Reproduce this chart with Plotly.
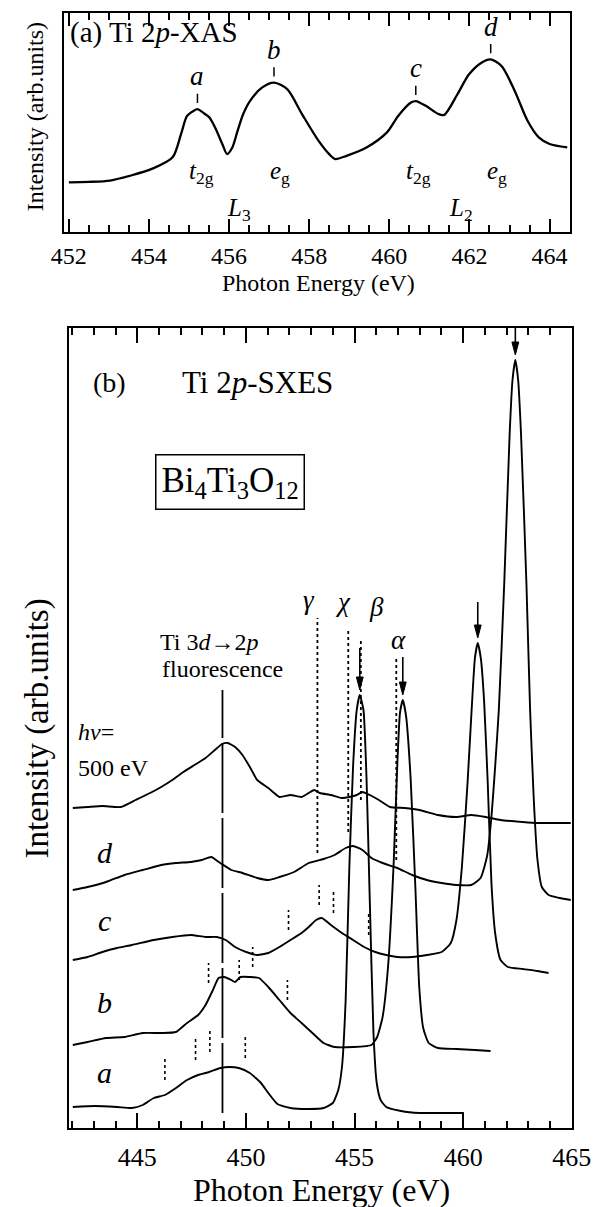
import plotly.graph_objects as go

FONT = "Liberation Serif, Times New Roman, Times, DejaVu Serif, serif"
W, H = 610, 1207
OFF = 8  # page body margin offset of the rendered figure

# ---------------- (a) Ti 2p-XAS ----------------
xas_energy = [452.0, 452.5, 453.03, 453.55, 454.07, 454.59, 454.8, 454.95, 455.11, 455.21,
              455.35, 455.51, 455.65, 455.83, 455.95, 456.08, 456.2, 456.35, 456.52, 456.82,
              457.12, 457.45, 457.82, 458.23, 458.51, 458.65, 458.93, 459.43, 459.94, 460.22,
              460.54, 460.66, 460.91, 461.23, 461.37, 461.7, 461.99, 462.3, 462.53, 462.8,
              463.13, 463.45, 463.73, 464.0, 464.44]
xas_intensity = [22.7, 22.9, 23.5, 25.8, 28.8, 34.1, 44.7, 53, 55.3, 56.1,
                 54.5, 52.3, 47.7, 40.2, 35.6, 38.6, 45.5, 53.8, 59.8, 65.9,
                 68.2, 65.2, 53.8, 41.7, 35.3, 33.3, 34.8, 38.6, 45.5, 53,
                 59.1, 59.8, 57.6, 53.8, 53.5, 62.9, 72, 77.3, 78.8, 75.8,
                 64.4, 50.8, 43.2, 40.2, 38.6]
xas_peak_labels = ["a", "b", "c", "d"]
xas_peak_energy = [455.21, 457.12, 460.66, 462.53]
xas_peak_height = [56.1, 68.2, 59.8, 78.8]
xas_sym_labels = ["<i>t</i><sub>2g</sub>", "<i>e</i><sub>g</sub>", "<i>t</i><sub>2g</sub>", "<i>e</i><sub>g</sub>"]
xas_sym_energy = [455.32, 457.26, 460.74, 462.68]
edge_labels = ["<i>L</i><sub>3</sub>", "<i>L</i><sub>2</sub>"]
edge_energy = [456.25, 461.8]

# ---------------- (b) Ti 2p-SXES ----------------
e_500 = [442.03, 442.71, 443.39, 444.24, 444.92, 445.59, 446.10, 446.61, 447.12, 447.63,
         448.14, 448.57, 448.90, 449.16, 449.50, 449.84, 450.18, 450.52, 451.03, 451.54,
         452.05, 452.56, 452.89, 453.15, 453.40, 453.91, 454.42, 454.76, 455.10, 455.36,
         455.70, 456.12, 456.63, 457.31, 457.99, 458.84, 459.69, 460.37, 461.04, 461.72,
         462.74, 463.42, 464.10, 464.95]
i_500 = [320, 321, 322, 321, 328, 335, 341, 348, 356, 363,
         370, 378, 384, 385, 381, 373, 361, 348, 340, 331,
         333, 331, 335, 338, 335, 333, 330, 331, 333, 336,
         333, 328, 321, 320, 318, 313, 311, 313, 311, 308,
         306, 305, 305, 305]

e_d = [442.03, 442.71, 443.56, 444.41, 445.25, 446.10, 446.78, 447.46, 447.97, 448.40,
       448.82, 449.33, 449.84, 450.52, 451.03, 451.54, 452.22, 452.89, 453.57, 454.08,
       454.59, 454.93, 455.36, 455.78, 456.29, 456.97, 457.65, 458.33, 459.01, 459.69,
       460.37, 460.80, 461.10, 461.30, 461.47, 461.64, 461.89, 462.14, 462.27, 462.40,
       462.53, 462.66, 462.91, 463.08, 463.25, 463.42, 463.62, 463.93, 464.44, 464.95]
i_d = [238, 241, 246, 253, 258, 263, 265, 266, 268, 271,
       265, 258, 255, 250, 248, 251, 256, 265, 269, 273,
       280, 282, 278, 270, 265, 260, 253, 248, 245, 243,
       243, 250, 272, 311, 361, 418, 545, 695, 748, 768,
       748, 695, 545, 418, 328, 268, 241, 233, 230, 228]

e_c = [442.03, 442.71, 443.39, 444.07, 444.75, 445.76, 446.61, 447.46, 448.14, 448.65,
       449.07, 449.50, 450.01, 450.52, 451.03, 451.54, 452.05, 452.56, 452.89, 453.23,
       453.49, 453.91, 454.42, 454.93, 455.44, 455.95, 456.46, 456.97, 457.65, 458.33,
       459.01, 459.43, 459.69, 459.94, 460.20, 460.37, 460.54, 460.67, 460.81, 460.96,
       461.13, 461.30, 461.47, 461.72, 462.06, 462.74, 463.42, 463.93]
i_c = [168, 171, 176, 180, 183, 188, 191, 193, 191, 191,
       188, 181, 176, 173, 175, 181, 188, 195, 201, 208,
       210, 203, 195, 188, 181, 176, 173, 171, 171, 173,
       176, 185, 208, 261, 345, 411, 470, 485, 470, 428,
       345, 245, 195, 168, 161, 159, 157, 155]

e_b = [442.03, 442.71, 443.56, 444.41, 445.25, 446.10, 446.78, 447.29, 447.80, 448.14,
       448.48, 448.74, 448.99, 449.33, 449.50, 449.75, 450.18, 450.60, 451.03, 451.54,
       452.05, 452.56, 453.06, 453.57, 454.08, 454.93, 455.78, 456.04, 456.29, 456.54,
       456.80, 456.97, 457.09, 457.22, 457.37, 457.58, 457.80, 457.98, 458.16, 458.41,
       458.84, 459.69, 460.53, 461.26]
i_b = [83, 86, 90, 91, 95, 95, 96, 105, 113, 123,
       138, 150, 151, 148, 146, 151, 151, 150, 141, 128,
       115, 105, 95, 85, 81, 81, 83, 91, 111, 161,
       265, 365, 415, 428, 412, 350, 240, 140, 100, 85,
       80, 79, 78, 77]

e_a = [442.03, 443.05, 444.07, 444.75, 445.25, 445.76, 446.27, 446.78, 447.29, 447.80,
       448.31, 448.82, 449.24, 449.67, 450.18, 450.69, 451.03, 451.45, 452.05, 452.89,
       453.57, 454.0, 454.25, 454.42, 454.59, 454.76, 454.93, 455.10, 455.24, 455.41,
       455.55, 455.70, 455.87, 456.02, 456.2, 456.46, 457.14, 457.99, 458.84, 460.03]
i_a = [21, 22, 21, 20, 23, 30, 33, 40, 48, 53,
       56, 60, 61, 60, 55, 45, 35, 24, 20, 19,
       20, 25, 38, 61, 128, 261, 361, 418, 433, 418,
       350, 228, 95, 45, 28, 21, 17, 15, 15, 15]

spectra = [(e_500, i_500), (e_d, i_d), (e_c, i_c), (e_b, i_b), (e_a, i_a)]
spectrum_labels = ["d", "c", "b", "a"]
spectrum_label_y = [276, 208, 126, 56]

arrow_spectra = [1, 2, 3, 4]
arrow_length = [58, 36, 38, 42]

loss_names = ["γ", "χ", "β", "α"]
loss_energy = [453.29, 454.71, 455.29, 456.92]
loss_bottom = [275, 296, 328, 268]
loss_top = [510, 498, 488, 470]
loss_label_x = [452.89, 454.49, 456.02, 457.04]
loss_label_y = [528, 526, 521, 488]

marks = [(446.27, 48, 70), (447.68, 68, 90), (448.34, 76, 98), (449.97, 70, 91),
         (448.28, 145, 165), (449.69, 148, 168), (450.31, 161, 181), (451.91, 128, 148),
         (451.96, 198, 218), (453.37, 223, 243), (454.03, 215, 236), (455.65, 193, 215)]

fluor_energy = 448.92
fluor_range = (15, 438)

X2_RANGE = [441.84, 465.03]
X2_PIX = (58.3, 590)


def px(x):
    return (x - OFF) / W


def py(y):
    return 1 - (y - OFF) / H


fig = go.Figure()
fig.add_trace(go.Scatter(x=xas_energy, y=xas_intensity, mode="lines",
                         line=dict(color="black", width=2.3, shape="spline", smoothing=0.8),
                         xaxis="x", yaxis="y", showlegend=False, hoverinfo="skip"))
for e, i in spectra:
    fig.add_trace(go.Scatter(x=e, y=i, mode="lines",
                             line=dict(color="black", width=1.9, shape="spline", smoothing=0.5),
                             xaxis="x2", yaxis="y2", showlegend=False, hoverinfo="skip"))

shapes = []
annotations = []


def txt(x, y, text, size, xref="x2", yref="y2", xanchor="center", yanchor="middle", angle=0):
    annotations.append(dict(x=x, y=y, xref=xref, yref=yref, text=text, showarrow=False,
                            xanchor=xanchor, yanchor=yanchor, textangle=angle,
                            font=dict(family=FONT, size=size, color="black")))


# panel (a) labels
txt(451.98, 91, "(a) Ti 2<i>p</i>-XAS", 29, "x", "y", xanchor="left")
for lab, pe, ph in zip(xas_peak_labels, xas_peak_energy, xas_peak_height):
    shapes.append(dict(type="line", xref="x", yref="y", x0=pe, x1=pe, y0=ph + 2.8, y1=ph + 7.0,
                       line=dict(color="black", width=1.5)))
    txt(pe, ph + 15, "<i>%s</i>" % lab, 27, "x", "y")
for lab, se in zip(xas_sym_labels, xas_sym_energy):
    txt(se, 27, lab, 25, "x", "y")
for lab, le in zip(edge_labels, edge_energy):
    txt(le, 10.5, lab, 25, "x", "y")

# panel (b) labels
txt(443.73, 746, "(b)", 28)
txt(446.97, 746, "Ti 2<i>p</i>-SXES", 31, xanchor="left")
annotations.append(dict(x=px(229), y=py(481.5), xref="paper", yref="paper",
                        text="Bi<sub>4</sub>Ti<sub>3</sub>O<sub>12</sub>", showarrow=False,
                        font=dict(family=FONT, size=35, color="black"),
                        bordercolor="black", borderwidth=1.5, borderpad=5))
txt(445.95, 486, "Ti 3<i>d</i>→2<i>p</i>", 24, xanchor="left")
txt(446.05, 459, "fluorescence", 24, xanchor="left")
txt(442.17, 396, "<i>hv</i>=", 24, xanchor="left")
txt(442.17, 360, "500 eV", 24, xanchor="left")
for lab, ly in zip(spectrum_labels, spectrum_label_y):
    txt(443.5, ly, "<i>%s</i>" % lab, 30)
for name, le, lb, lt, lx, ly in zip(loss_names, loss_energy, loss_bottom, loss_top, loss_label_x, loss_label_y):
    shapes.append(dict(type="line", xref="x2", yref="y2", x0=le, x1=le, y0=lb, y1=lt,
                       line=dict(color="black", width=1.8, dash="dot")))
    txt(lx, ly, "<i>%s</i>" % name, 27)
for me, ml, mh in marks:
    shapes.append(dict(type="line", xref="x2", yref="y2", x0=me, x1=me, y0=ml, y1=mh,
                       line=dict(color="black", width=1.6, dash="dot")))
shapes.append(dict(type="line", xref="x2", yref="y2", x0=fluor_energy, x1=fluor_energy,
                   y0=fluor_range[0], y1=fluor_range[1],
                   line=dict(color="black", width=1.8, dash="70px,5px")))

# arrows pointing at the elastic peaks (line + filled head), head size in pixels
ev_per_px = (X2_RANGE[1] - X2_RANGE[0]) / (X2_PIX[1] - X2_PIX[0])
head_len, head_half = 13, 3.6
for idx, L in zip(arrow_spectra, arrow_length):
    e, i = spectra[idx]
    k = i.index(max(i))
    xe, tip = e[k], i[k] + 5
    shapes.append(dict(type="line", xref="x2", yref="y2", x0=xe, x1=xe, y0=tip + head_len - 1,
                       y1=tip + L, line=dict(color="black", width=1.6)))
    hw = head_half * ev_per_px
    shapes.append(dict(type="path", xref="x2", yref="y2",
                       path="M %f,%f L %f,%f L %f,%f Z" % (xe, tip, xe - hw, tip + head_len, xe + hw, tip + head_len),
                       fillcolor="black", line=dict(color="black", width=1)))

# axis titles
txt(px(23), py(117), "Intensity (arb.units)", 24, "paper", "paper", angle=-90)
txt(px(321.6), py(283), "Photon Energy (eV)", 24, "paper", "paper")
txt(px(25), py(728.5), "Intensity (arb.units)", 33, "paper", "paper", angle=-90)
txt(px(325.6), py(1190), "Photon Energy (eV)", 32, "paper", "paper")

axis_common = dict(showgrid=False, zeroline=False, showline=True, linewidth=2, linecolor="black")

fig.update_layout(
    width=W, height=H, margin=dict(l=0, r=0, t=0, b=0),
    paper_bgcolor="white", plot_bgcolor="white", showlegend=False,
    font=dict(family=FONT, color="black"),
    xaxis=dict(domain=[px(53), px(587)], range=[451.87, 464.5], anchor="y",
               tickmode="linear", tick0=452, dtick=2, ticks="inside", ticklen=13, tickwidth=1.5,
               tickcolor="black", mirror="ticks",
               minor=dict(tickmode="linear", tick0=452, dtick=0.5, ticks="inside", ticklen=7,
                          tickwidth=1.5, tickcolor="black"),
               tickfont=dict(family=FONT, size=24, color="black"), ticklabelstandoff=1,
               **axis_common),
    yaxis=dict(domain=[py(232), py(13)], range=[0, 100], anchor="x", showticklabels=False,
               ticks="", mirror=True, **axis_common),
    xaxis2=dict(domain=[px(X2_PIX[0]), px(X2_PIX[1])], range=X2_RANGE, anchor="y2",
                tickmode="linear", tick0=445, dtick=5, ticks="inside", ticklen=15, tickwidth=1.5,
                tickcolor="black", mirror="ticks",
                minor=dict(tickmode="linear", tick0=445, dtick=1, ticks="inside", ticklen=7,
                           tickwidth=1.5, tickcolor="black"),
                tickfont=dict(family=FONT, size=26, color="black"), ticklabelstandoff=5,
                **axis_common),
    yaxis2=dict(domain=[py(1128), py(328)], range=[0, 800], anchor="x2", showticklabels=False,
                ticks="", mirror=True, **axis_common),
    shapes=shapes, annotations=annotations,
)

fig.write_html("out.html")
